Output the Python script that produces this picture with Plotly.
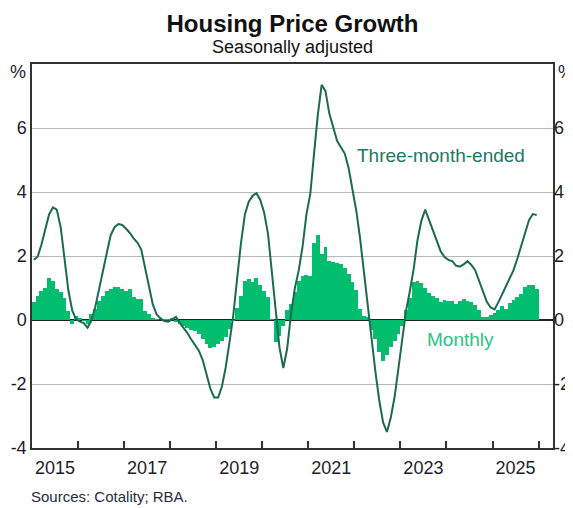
import plotly.graph_objects as go
import pandas as pd

# Monthly housing price growth, % (Jan 2015 - Dec 2025), one row per year
monthly_growth = [
    0.55, 0.75, 0.90, 1.00, 1.32, 1.22, 0.98, 0.88, 0.70, 0.28, -0.14, 0.12,   # 2015
    0.07, -0.03, -0.14, 0.18, 0.33, 0.60, 0.75, 0.90, 0.98, 1.02, 1.04, 0.98,  # 2016
    0.90, 0.98, 0.72, 0.67, 0.67, 0.28, 0.18, 0.04, 0.02, 0.00, 0.01, 0.03,    # 2017
    0.05, -0.05, -0.12, -0.18, -0.24, -0.30, -0.34, -0.45, -0.60, -0.76, -0.88, -0.84,  # 2018
    -0.74, -0.65, -0.53, -0.28, -0.01, 0.38, 0.76, 1.22, 1.27, 1.20, 1.32, 1.10,  # 2019
    0.90, 0.72, 0.02, -0.70, -0.50, -0.20, 0.32, 0.50, 0.88, 1.22, 1.38, 1.40,   # 2020
    1.38, 2.42, 2.65, 2.05, 2.28, 1.84, 1.80, 1.78, 1.74, 1.64, 1.43, 1.20,      # 2021
    0.95, 0.35, 0.12, 0.10, -0.32, -0.60, -1.00, -1.28, -1.10, -0.85, -0.65, -0.45,  # 2022
    -0.20, 0.30, 0.70, 1.20, 1.22, 1.15, 1.00, 0.85, 0.75, 0.68, 0.55, 0.63,     # 2023
    0.60, 0.60, 0.50, 0.60, 0.65, 0.60, 0.55, 0.47, 0.32, 0.10, 0.10, 0.16,      # 2024
    0.22, 0.30, 0.45, 0.33, 0.53, 0.63, 0.72, 0.82, 1.04, 1.10, 1.10, 0.96,      # 2025
]

# Three-month-ended housing price growth, %
three_month_growth = [
    1.88, 1.98, 2.35, 2.85, 3.30, 3.52, 3.45, 2.90, 1.95, 0.92, 0.30, 0.02,      # 2015
    -0.05, -0.10, -0.24, -0.02, 0.40, 0.98, 1.60, 2.10, 2.65, 2.90, 3.00, 2.97,  # 2016
    2.85, 2.72, 2.55, 2.42, 2.20, 1.60, 1.00, 0.48, 0.17, 0.05, -0.03, -0.05,    # 2017
    0.02, 0.10, -0.08, -0.24, -0.40, -0.60, -0.78, -0.96, -1.25, -1.70, -2.15, -2.42,  # 2018
    -2.42, -2.08, -1.50, -0.70, 0.15, 1.30, 2.40, 3.30, 3.70, 3.88, 3.96, 3.75,  # 2019
    3.35, 2.70, 1.60, 0.30, -0.85, -1.50, -0.90, 0.20, 1.00, 1.55, 2.30, 3.30,   # 2020
    3.95, 5.20, 6.40, 7.35, 7.15, 6.45, 6.00, 5.60, 5.40, 5.20, 4.75, 4.10,      # 2021
    3.40, 2.55, 1.50, 0.40, -0.60, -1.60, -2.50, -3.20, -3.50, -3.05, -2.40, -1.50,  # 2022
    -0.50, 0.30, 0.90, 1.60, 2.50, 3.10, 3.45, 3.12, 2.78, 2.47, 2.15, 1.97,     # 2023
    1.88, 1.84, 1.70, 1.67, 1.74, 1.84, 1.72, 1.55, 1.20, 0.87, 0.57, 0.39,      # 2024
    0.33, 0.55, 0.80, 1.04, 1.28, 1.56, 1.92, 2.33, 2.75, 3.12, 3.31, 3.28,      # 2025
]

year_labels = ["2015", "2017", "2019", "2021", "2023", "2025"]
y_ticks = [-4, -2, 0, 2, 4, 6]

months = pd.date_range("2015-01-01", periods=len(monthly_growth), freq="MS")

FONT = "Liberation Sans, Arial, sans-serif"
TXT = "#1d1d2b"
AXIS = "#333333"

fig = go.Figure()
fig.add_trace(go.Bar(
    x=months, y=monthly_growth, xperiod="M1", xperiodalignment="middle",
    width=31 * 86400000,
    marker=dict(color="#00be6e", line=dict(width=0)),
    name="Monthly", showlegend=False,
))
fig.add_trace(go.Scatter(
    x=months, y=three_month_growth, xperiod="M1", xperiodalignment="middle",
    mode="lines", line=dict(color="#1e6a50", width=2),
    name="Three-month-ended", showlegend=False, yaxis="y2",
))

# page body has an 8px margin, so the figure is 8px smaller than the window
fig.update_layout(
    width=565, height=500,
    margin=dict(l=24, r=20, t=56, b=60, autoexpand=False),
    paper_bgcolor="white", plot_bgcolor="white",
    font=dict(family=FONT, color=TXT, size=18),
    bargap=0, showlegend=False,
    title=dict(text="<b>Housing Price Growth</b>", x=0.5, xref="paper",
               y=0.969, yanchor="middle", font=dict(size=24, color="#111111", family=FONT)),
    xaxis=dict(
        type="date", range=["2015-01-01", "2026-04-25"],
        showline=True, linecolor=AXIS, linewidth=1.5, mirror=True,
        showgrid=False, zeroline=False, automargin=False,
        tickmode="array",
        tickvals=[f"{y}-07-02" for y in year_labels],
        ticktext=year_labels, ticks="", ticklabelstandoff=3,
        tickfont=dict(size=18, color=TXT),
        minor=dict(tickmode="array",
                   tickvals=[f"{y}-01-01" for y in range(2016, 2027)],
                   ticks="inside", ticklen=7, tickcolor=AXIS, tickwidth=1.5,
                   showgrid=False),
        fixedrange=True,
    ),
    yaxis=dict(
        range=[-4, 8], tickmode="array", tickvals=y_ticks,
        ticktext=[str(v) for v in y_ticks], ticks="",
        showgrid=True, gridcolor="#b8b8b8", gridwidth=1.2,
        zeroline=True, zerolinecolor="#222222", zerolinewidth=1.5,
        showline=True, linecolor=AXIS, linewidth=1.5, mirror=True,
        tickfont=dict(size=18, color=TXT), automargin=False, fixedrange=True,
    ),
    yaxis2=dict(
        range=[-4, 8], overlaying="y", side="right", tickmode="array",
        tickvals=y_ticks, ticktext=[str(v) for v in y_ticks], ticks="",
        showgrid=False, zeroline=False, showline=False,
        tickfont=dict(size=18, color=TXT), automargin=False, fixedrange=True,
    ),
)

annotations = [
    dict(text="Seasonally adjusted", xref="paper", yref="paper", x=0.5, y=1.045,
         xanchor="center", yanchor="middle", showarrow=False,
         font=dict(size=18, color="#111111")),
    dict(text="%", xref="paper", yref="y", x=0, y=7.75, xanchor="right",
         yanchor="middle", xshift=-4, showarrow=False, font=dict(size=18, color=TXT)),
    dict(text="%", xref="paper", yref="y", x=1, y=7.75, xanchor="left",
         yanchor="middle", xshift=3, showarrow=False, font=dict(size=18, color=TXT)),
    dict(text="Three-month-ended", xref="x", yref="y", x="2022-01-06", y=5.15,
         xanchor="left", yanchor="middle", showarrow=False,
         font=dict(size=19, color="#277566")),
    dict(text="Monthly", xref="x", yref="y", x="2023-07-15", y=-0.6,
         xanchor="left", yanchor="middle", showarrow=False,
         font=dict(size=19, color="#2cc585")),
    dict(text="Sources: Cotality; RBA.", xref="paper", yref="paper", x=0, y=-0.1276,
         xanchor="left", yanchor="middle", xshift=-3, showarrow=False,
         font=dict(size=15, color="#2a2a44")),
]
fig.update_layout(annotations=annotations)

fig.write_html("out.html")
